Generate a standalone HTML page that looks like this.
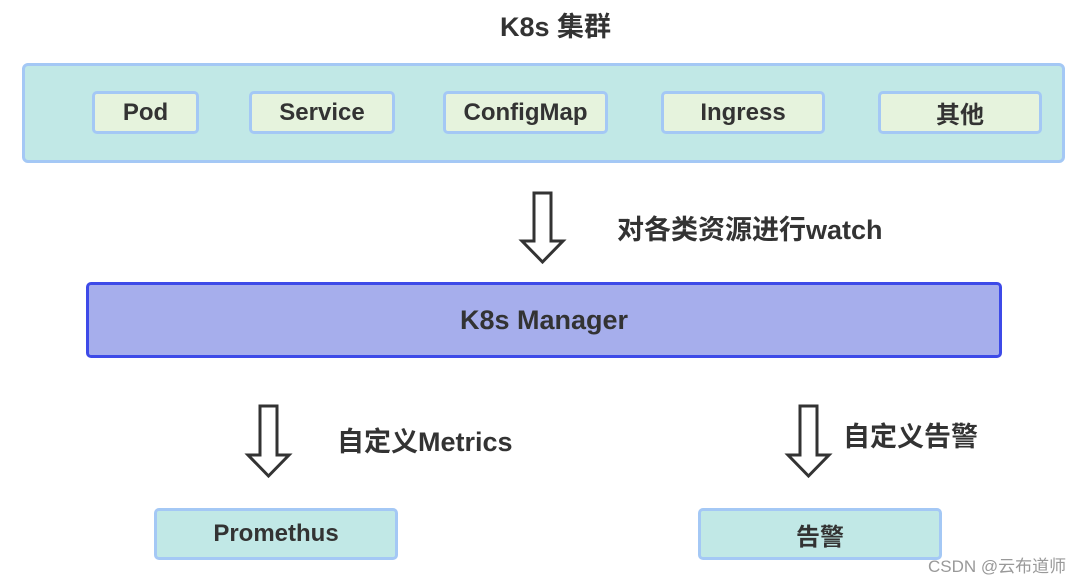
<!DOCTYPE html>
<html><head><meta charset="utf-8"><style>
body{margin:0;width:1080px;height:580px;background:#fff;position:relative;overflow:hidden;font-family:"Liberation Sans","Noto Sans CJK SC",sans-serif;color:#333;font-weight:bold}
.b{position:absolute;box-sizing:border-box;display:flex;align-items:center;justify-content:center;font-size:24px}
.t{position:absolute;font-size:27px;white-space:nowrap}
.in{background:#e6f3dd;border:3px solid #a4c8f5;border-radius:5px;top:91px;height:43px}
</style></head><body>
<div class="t" style="left:500px;top:5px">K8s 集群</div>
<div class="b" style="left:22px;top:63px;width:1043px;height:100px;background:#c1e8e6;border:3px solid #a4c8f5;border-radius:6px"></div>
<div class="b in" style="left:92px;width:107px">Pod</div>
<div class="b in" style="left:249px;width:146px">Service</div>
<div class="b in" style="left:443px;width:165px">ConfigMap</div>
<div class="b in" style="left:661px;width:164px">Ingress</div>
<div class="b in" style="left:878px;width:164px">其他</div>
<svg style="position:absolute;left:0;top:0" width="1080" height="580">
<g fill="#fff" stroke="#333" stroke-width="3" stroke-linejoin="miter">
<path d="M534 193H551V241H563L542.5 262L522 241H534Z"/>
<path d="M260 406H277V455H289L268.5 476L248 455H260Z"/>
<path d="M800 406H817V455H829L808.5 476L788 455H800Z"/>
</g></svg>
<div class="t" style="left:617px;top:208px">对各类资源进行watch</div>
<div class="b" style="left:86px;top:282px;width:916px;height:76px;background:#a6aeec;border:3px solid #3d4ae8;border-radius:5px;font-size:27px">K8s Manager</div>
<div class="t" style="left:337px;top:420px">自定义Metrics</div>
<div class="t" style="left:843px;top:415px">自定义告警</div>
<div class="b" style="left:154px;top:508px;width:244px;height:52px;background:#c1e8e6;border:3px solid #a4c8f5;border-radius:5px">Promethus</div>
<div class="b" style="left:698px;top:508px;width:244px;height:52px;background:#c1e8e6;border:3px solid #a4c8f5;border-radius:5px">告警</div>
<div class="t" style="left:928px;top:552px;font-size:17px;font-weight:normal;color:#999">CSDN @云布道师</div>
</body></html>
